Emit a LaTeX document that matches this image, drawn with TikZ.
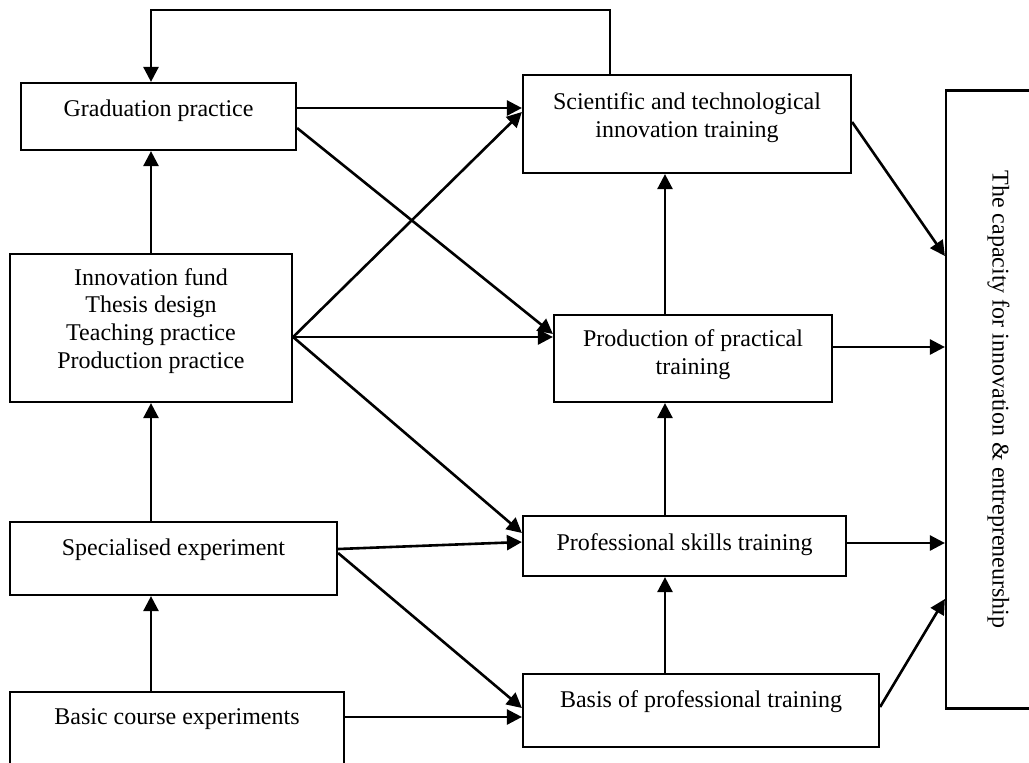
\documentclass[tikz,border=0pt]{standalone}
\usepackage{fontspec}
\setmainfont{Liberation Serif}
\usetikzlibrary{arrows.meta, calc}
\tikzset{
  blk/.style = {draw, line width=1.1pt, inner sep=0pt, align=center,
                font=\fontsize{12pt}{13.8pt}\selectfont, text height=16.5pt},
  arr/.style = {-{Triangle[length=7.5pt, width=7.5pt]}, line width=1.3pt},
}
\begin{document}
\begin{tikzpicture}[x=0.5pt, y=-0.5pt]
\useasboundingbox (0,0) rectangle (1029,762);
\clip (0,0) rectangle (1029,762);

%%──────────────────────────────────────────────────
%% Left column: practice and experiments
%%──────────────────────────────────────────────────
\node[blk, minimum width=137.5pt, text depth=17pt] (grad) at (158.5,116.5)
  {Graduation practice};

\node[blk, minimum width=141pt, text height=57pt, text depth=17pt] (innov) at (151,328)
  {Innovation fund\\Thesis design\\Teaching practice\\Production practice};

\node[blk, minimum width=163.5pt, text depth=20pt] (spec) at (173.5,558.5)
  {Specialised experiment};

\node[blk, minimum width=167pt, text height=16pt, text depth=20.5pt] (basic) at (177,728.5)
  {Basic course experiments};

\draw[arr] (innov.north) -- (innov.north |- grad.south);
\draw[arr] (innov.south |- spec.north) -- (innov.south);
\draw[arr] (innov.south |- basic.north) -- (innov.south |- spec.south);

%%──────────────────────────────────────────────────
%% Middle column: training
%%──────────────────────────────────────────────────
\node[blk, minimum width=164pt, text height=31pt, text depth=18pt] (sci) at (687,124)
  {Scientific and technological\\innovation training};

\node[blk, minimum width=139pt, text height=29.5pt, text depth=14pt] (prod) at (693,358.5)
  {Production of practical\\training};

\node[blk, minimum width=161.5pt, text height=17pt, text depth=13pt] (prof) at (684.5,546)
  {Professional skills training};

\node[blk, minimum width=178pt, text depth=20pt] (basis) at (701,710.5)
  {Basis of professional training};

\coordinate (spine) at (665,0);
\draw[arr] (spine |- basis.north) -- (spine |- prof.south);
\draw[arr] (spine |- prof.north)  -- (spine |- prod.south);
\draw[arr] (spine |- prod.north)  -- (spine |- sci.south);

%% feedback loop over the top
\draw[arr] ($(sci.north)+(-77,0)$) -- ++(0,-64) -| (innov.north |- grad.north);

%%──────────────────────────────────────────────────
%% Right: outcome
%%──────────────────────────────────────────────────
\node[blk, rotate=-90, minimum width=309pt, minimum height=52pt,
      text height=8pt, text depth=2.5pt] (cap) at (998,399.5)
  {The capacity for innovation \& entrepreneurship};

%% Cross links left -> middle
\draw[arr] ($(grad.east)+(0,-8.5)$) coordinate (g1) -- (g1 -| sci.west);
\draw[arr] ($(grad.east)+(0,11.5)$) -- ($(prod.west)+(0,-24.5)$);
\draw[arr] ($(innov.east)+(0,9)$)   -- ($(sci.west)+(0,-12)$);
\draw[arr] ($(innov.east)+(0,9)$) coordinate (i1) -- (i1 -| prod.west);
\draw[arr] ($(innov.east)+(0,9)$)   -- ($(prof.west)+(0,-13)$);
\draw[arr] ($(spec.east)+(0,-9.5)$) -- ($(prof.west)+(0,-4)$);
\draw[arr] ($(spec.east)+(0,-5.5)$) -- ($(basis.west)+(0,-2.5)$);
\draw[arr] ($(basic.east)+(0,-11.5)$) coordinate (b1) -- (b1 -| basis.west);

%% middle -> outcome
\draw[arr] ($(sci.east)+(0,-2)$)    -- ($(cap.south)+(0,-143.5)$);
\draw[arr] ($(prod.east)+(0,-11.5)$) coordinate (p1) -- (p1 -| cap.south);
\draw[arr] ($(prof.east)+(0,-3)$) coordinate (q1) -- (q1 -| cap.south);
\draw[arr] ($(basis.east)+(0,-3.5)$) -- ($(cap.south)+(0,199.5)$);

\end{tikzpicture}
\end{document}
